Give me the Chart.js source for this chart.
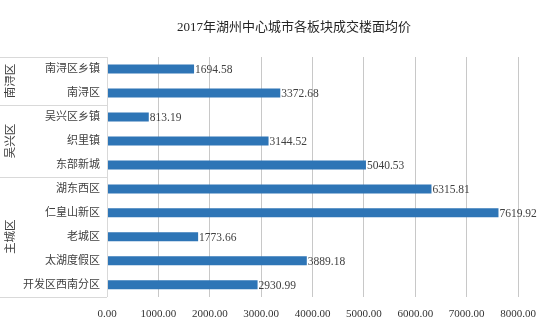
<!DOCTYPE html>
<html>
<head>
<meta charset="utf-8">
<script src="https://cdn.jsdelivr.net/npm/chart.js@4/dist/chart.umd.min.js"></script>
<style>
  html, body { margin: 0; padding: 0; background: #fff; }
  #wrap { width: 550px; height: 334px; }
</style>
</head>
<body>
<div id="wrap"><canvas id="chart"></canvas></div>
<script>
const titleText = '2017年湖州中心城市各板块成交楼面均价';
const categories = ['南浔区乡镇', '南浔区', '吴兴区乡镇', '织里镇', '东部新城', '湖东西区', '仁皇山新区', '老城区', '太湖度假区', '开发区西南分区'];
const prices = [1694.58, 3372.68, 813.19, 3144.52, 5040.53, 6315.81, 7619.92, 1773.66, 3889.18, 2930.99];
const groupNames = ['南浔区', '吴兴区', '主城区'];
const groupSizes = [2, 3, 5];
const xTicks = [0, 1000, 2000, 3000, 4000, 5000, 6000, 7000, 8000];

const FONT = '"Liberation Serif", "Noto Sans CJK SC", serif';

// title sits a bit right of the canvas centre, like the original
const titleDraw = {
  id: 'titleDraw',
  afterDraw(chart) {
    const ctx = chart.ctx;
    ctx.save();
    ctx.font = '13px ' + FONT;
    ctx.fillStyle = '#262626';
    ctx.textAlign = 'center';
    ctx.textBaseline = 'middle';
    ctx.fillText(titleText, 294, 28);
    ctx.restore();
  }
};

// value labels at bar ends
const valueLabels = {
  id: 'valueLabels',
  afterDatasetsDraw(chart) {
    const ctx = chart.ctx;
    const meta = chart.getDatasetMeta(0);
    ctx.save();
    ctx.font = '11.5px ' + FONT;
    ctx.fillStyle = '#404040';
    ctx.textAlign = 'left';
    ctx.textBaseline = 'middle';
    meta.data.forEach((bar, i) => {
      ctx.fillText(prices[i].toFixed(2), bar.x + 1, bar.y + 1);
    });
    ctx.restore();
  }
};

// group column on the left of the category axis
const groupAxis = {
  id: 'groupAxis',
  afterDraw(chart) {
    const ctx = chart.ctx;
    const y = chart.scales.y;
    const area = chart.chartArea;
    const edge = (i) => {
      if (i <= 0) return area.top;
      if (i >= categories.length) return area.bottom;
      return (y.getPixelForValue(i - 1) + y.getPixelForValue(i)) / 2;
    };
    ctx.save();
    ctx.strokeStyle = '#d9d9d9';
    ctx.lineWidth = 1;
    let start = 0;
    const bounds = [0];
    groupSizes.forEach(n => { start += n; bounds.push(start); });
    bounds.forEach(b => {
      const py = Math.round(edge(b)) + 0.5;
      ctx.beginPath();
      ctx.moveTo(0, py);
      ctx.lineTo(area.left, py);
      ctx.stroke();
    });
    ctx.beginPath();
    ctx.moveTo(Math.round(area.left) + 0.5, area.top);
    ctx.lineTo(Math.round(area.left) + 0.5, area.bottom);
    ctx.stroke();

    ctx.font = '11.5px ' + FONT;
    ctx.fillStyle = '#404040';
    ctx.textAlign = 'center';
    ctx.textBaseline = 'middle';
    groupNames.forEach((name, g) => {
      const mid = (edge(bounds[g]) + edge(bounds[g + 1])) / 2;
      ctx.save();
      ctx.translate(11, mid);
      ctx.rotate(-Math.PI / 2);
      ctx.fillText(name, 0, 0);
      ctx.restore();
    });
    ctx.restore();
  }
};

new Chart(document.getElementById('chart'), {
  type: 'bar',
  data: {
    labels: categories,
    datasets: [{
      data: prices,
      backgroundColor: '#2e75b6',
      categoryPercentage: 1,
      barPercentage: 0.375
    }]
  },
  options: {
    indexAxis: 'y',
    responsive: true,
    maintainAspectRatio: false,
    animation: false,
    layout: { padding: { left: 0, right: 32, top: 57, bottom: 2 } },
    plugins: {
      legend: { display: false },
      tooltip: { enabled: false },
      title: { display: false }
    },
    scales: {
      x: {
        min: 0,
        max: 8000,
        afterBuildTicks(scale) { scale.ticks = xTicks.map(v => ({ value: v })); },
        ticks: {
          color: '#333333',
          font: { family: FONT, size: 11 },
          padding: 11,
          maxRotation: 0,
          callback: (v) => Number(v).toFixed(2)
        },
        grid: { color: '#c8c8c8', drawTicks: false },
        border: { display: false }
      },
      y: {
        afterFit(scale) { scale.width = 107; },
        ticks: {
          color: '#404040',
          font: { family: FONT, size: 11 },
          padding: 7
        },
        grid: { display: false, drawTicks: false },
        border: { display: false }
      }
    }
  },
  plugins: [valueLabels, groupAxis, titleDraw]
});
</script>
</body>
</html>
